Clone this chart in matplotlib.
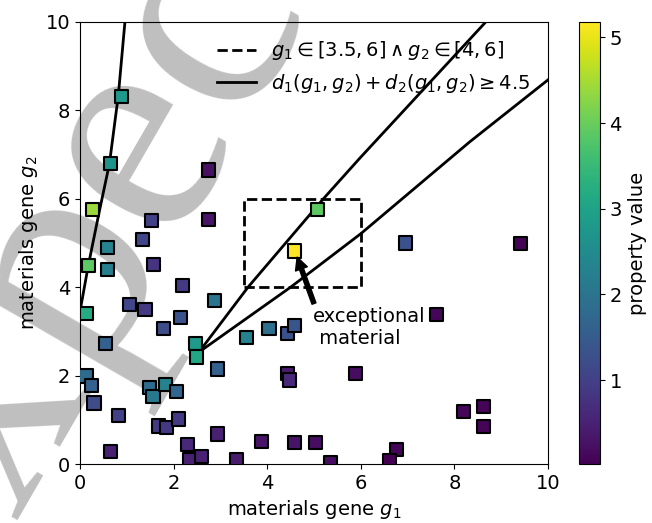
import numpy as np
import matplotlib
matplotlib.use('Agg')
import matplotlib.pyplot as plt

# materials: gene g1, gene g2, property value
g1 = [0.89, 0.66, 0.27, 0.18, 0.59, 0.59, 0.14, 0.55, 0.13, 0.25,
      0.30, 0.83, 0.66, 1.52, 1.34, 1.57, 1.05, 1.39, 1.79, 2.19,
      2.15, 2.88, 2.74, 2.75, 2.46, 2.49, 2.93, 1.48, 1.56, 1.83,
      2.07, 1.67, 1.84, 2.11, 2.30, 2.35, 2.59, 2.93, 3.35, 3.87,
      4.58, 5.03, 5.36, 3.55, 4.04, 4.43, 4.58, 4.44, 4.48, 5.07,
      4.58, 5.88, 6.96, 7.62, 9.41, 8.19, 8.63, 8.63, 6.76, 6.61]
g2 = [8.31, 6.80, 5.76, 4.49, 4.89, 4.40, 3.40, 2.73, 1.99, 1.77,
      1.38, 1.10, 0.29, 5.50, 5.08, 4.52, 3.60, 3.50, 3.06, 4.03,
      3.31, 3.70, 6.65, 5.53, 2.73, 2.42, 2.15, 1.74, 1.53, 1.80,
      1.64, 0.86, 0.83, 1.02, 0.44, 0.11, 0.17, 0.68, 0.09, 0.51,
      0.48, 0.48, 0.04, 2.87, 3.07, 2.96, 3.13, 2.04, 1.90, 5.76,
      4.82, 2.04, 5.00, 3.38, 4.98, 1.18, 1.30, 0.85, 0.33, 0.08]
prop = [2.8, 2.7, 4.4, 3.9, 2.3, 2.2, 3.2, 1.6, 1.8, 1.6,
        1.2, 1.0, 0.5, 1.0, 1.1, 0.8, 1.1, 0.9, 1.2, 0.9,
        1.3, 2.0, 0.25, 0.3, 2.8, 3.1, 1.6, 1.8, 2.1, 2.3,
        1.7, 0.9, 0.85, 0.9, 0.6, 0.5, 0.5, 0.5, 0.4, 0.3,
        0.3, 0.2, 0.2, 2.3, 1.9, 1.3, 1.4, 0.4, 0.6, 3.9,
        5.18, 0.2, 1.3, 0.1, 0.05, 0.1, 0.08, 0.08, 0.1, 0.02]

# rectangle rule
box_g1 = [3.5, 6, 6, 3.5, 3.5]
box_g2 = [4, 4, 6, 6, 4]

# contour d1 + d2 = 4.5
left_g1 = [0.0, 0.17, 0.40, 0.63, 0.82, 0.96]
left_g2 = [3.45, 4.45, 5.65, 6.8, 8.35, 10.0]
upper_g1 = [2.54, 3.59, 5.20, 5.98, 8.67]
upper_g2 = [2.53, 4.0, 6.0, 6.92, 10.0]
lower_g1 = [2.54, 4.50, 6.0, 8.33, 10.0]
lower_g2 = [2.53, 4.0, 5.21, 7.29, 8.69]

fig = plt.figure(figsize=(6.52, 5.23), dpi=100)
ax = fig.add_axes([0.1227, 0.1128, 0.7178, 0.8452])
cax = fig.add_axes([0.888, 0.1128, 0.032, 0.8452])
ax.set_zorder(1)
ax.patch.set_alpha(0)

# watermark behind the data
fig.text(0.218, 0.735, 'Expected', family=['Liberation Serif', 'DejaVu Serif'],
         fontsize=225, color='0.75', rotation=60, rotation_mode='anchor',
         ha='center', va='center', zorder=0)

ax.plot(box_g1, box_g2, 'k--', lw=2,
        label=r'$g_1 \in [3.5, 6] \wedge g_2 \in [4, 6]$')
ax.plot(left_g1, left_g2, 'k-', lw=2,
        label=r'$d_1(g_1, g_2) + d_2(g_1, g_2) \geq 4.5$')
ax.plot(upper_g1, upper_g2, 'k-', lw=2)
ax.plot(lower_g1, lower_g2, 'k-', lw=2)

sc = ax.scatter(g1, g2, c=prop, cmap='viridis', marker='s', s=90,
                edgecolors='black', linewidths=1.5, zorder=3)

ax.annotate('', xy=(4.64, 4.68), xytext=(5.0, 3.63),
            arrowprops=dict(facecolor='black', width=3, headwidth=9, headlength=9))
ax.text(4.98, 2.62, 'exceptional\n material', fontsize=14, ha='left', va='bottom')

ax.set_xlim(0, 10)
ax.set_ylim(0, 10)
ax.set_xlabel('materials gene $g_1$', fontsize=14)
ax.set_ylabel('materials gene $g_2$', fontsize=14)
ax.tick_params(labelsize=14)
ax.legend(loc='upper right', frameon=False, fontsize=14)

cb = fig.colorbar(sc, cax=cax)
cb.set_label('property value', fontsize=14)
cb.ax.tick_params(labelsize=14)

fig.savefig('out.png', dpi=100)
